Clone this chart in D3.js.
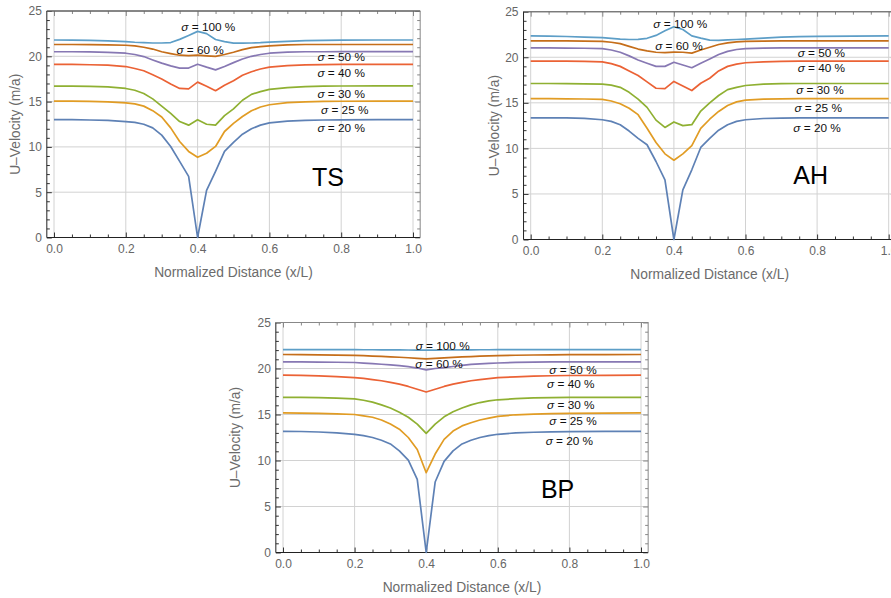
<!DOCTYPE html>
<html lang="en">
<head>
<meta charset="UTF-8">
<title>U-Velocity profiles</title>
<script src="https://d3js.org/d3.v7.min.js"></script>
<style>
  body { margin: 0; background: #fff; }
  text { font-family: "Liberation Sans", Arial, sans-serif; }
</style>
</head>
<body>
<svg></svg>
<script>

var width = 891, height = 598;

// normalized distance samples (x/L)
var xs = [0, 0.05, 0.1, 0.15, 0.2, 0.225, 0.25, 0.275, 0.3, 0.325, 0.35, 0.375, 0.4,
          0.425, 0.45, 0.475, 0.5, 0.525, 0.55, 0.575, 0.6, 0.65, 0.7, 0.75, 0.8, 0.9, 1.0];

var sigmas = ["20", "25", "30", "40", "50", "60", "100"];
var colors = ["#5e81b5", "#e19c24", "#8fb032", "#eb6235", "#8778b3", "#c56e1a", "#5d9ec7"];

var xTicks = [0, 0.2, 0.4, 0.6, 0.8, 1.0];
var yTicks = [0, 5, 10, 15, 20, 25];

// TS
var ts20  = [13.0, 13.0, 12.97, 12.92, 12.8, 12.7, 12.5, 12.1, 11.3, 10.05, 8.4, 6.75, 0, 5.2, 7.3, 9.5, 10.5, 11.4, 12.0, 12.4, 12.65, 12.85, 12.93, 12.97, 12.99, 13.0, 13.0];
var ts25  = [15.05, 15.05, 15.02, 14.97, 14.85, 14.75, 14.5, 14.0, 13.3, 12.1, 10.6, 9.5, 8.85, 9.3, 10.05, 11.7, 12.6, 13.35, 13.98, 14.4, 14.65, 14.88, 14.97, 15.02, 15.04, 15.05, 15.05];
var ts30  = [16.7, 16.7, 16.68, 16.62, 16.45, 16.25, 15.9, 15.3, 14.5, 13.7, 12.8, 12.4, 13.0, 12.5, 12.4, 13.45, 14.2, 15.15, 15.8, 16.1, 16.35, 16.55, 16.65, 16.7, 16.72, 16.73, 16.73];
var ts40  = [19.1, 19.1, 19.07, 19.02, 18.87, 18.65, 18.4, 17.96, 17.5, 16.95, 16.45, 16.4, 17.15, 16.7, 16.2, 16.8, 17.3, 17.9, 18.3, 18.6, 18.8, 18.98, 19.05, 19.08, 19.1, 19.1, 19.1];
var ts50  = [20.5, 20.5, 20.48, 20.43, 20.34, 20.2, 19.97, 19.6, 19.25, 18.95, 18.7, 18.7, 19.13, 18.8, 18.5, 18.87, 19.3, 19.7, 20.0, 20.2, 20.34, 20.45, 20.5, 20.5, 20.52, 20.52, 20.52];
var ts60  = [21.3, 21.3, 21.29, 21.27, 21.22, 21.15, 21.0, 20.8, 20.5, 20.3, 20.12, 20.08, 20.12, 20.05, 20.0, 20.2, 20.45, 20.74, 20.95, 21.07, 21.16, 21.27, 21.3, 21.3, 21.3, 21.3, 21.3];
var ts100 = [21.8, 21.78, 21.75, 21.7, 21.63, 21.55, 21.5, 21.47, 21.47, 21.52, 21.87, 22.3, 22.75, 22.5, 21.85, 21.62, 21.45, 21.45, 21.47, 21.5, 21.56, 21.65, 21.72, 21.76, 21.78, 21.8, 21.8];

// AH
var ah20  = [13.35, 13.35, 13.34, 13.3, 13.14, 12.96, 12.6, 11.9, 11.1, 10.4, 8.56, 6.55, 0, 5.45, 7.65, 10.1, 11.1, 12.0, 12.6, 12.96, 13.14, 13.28, 13.32, 13.34, 13.35, 13.35, 13.35];
var ah25  = [15.45, 15.45, 15.44, 15.42, 15.37, 15.2, 14.9, 14.4, 13.7, 12.2, 10.65, 9.4, 8.7, 9.4, 10.3, 12.2, 13.2, 14.05, 14.7, 15.1, 15.3, 15.4, 15.43, 15.45, 15.45, 15.45, 15.45];
var ah30  = [17.12, 17.12, 17.11, 17.09, 17.05, 16.95, 16.7, 16.15, 15.4, 14.5, 13.1, 12.3, 12.9, 12.5, 12.6, 14.1, 15.0, 15.8, 16.45, 16.7, 16.9, 17.05, 17.1, 17.12, 17.12, 17.12, 17.12];
var ah40  = [19.58, 19.58, 19.57, 19.55, 19.5, 19.3, 19.0, 18.5, 18.0, 17.3, 16.6, 16.55, 17.35, 16.85, 16.35, 17.15, 17.7, 18.5, 19.0, 19.25, 19.4, 19.5, 19.55, 19.57, 19.58, 19.58, 19.58];
var ah50  = [21.02, 21.02, 21.01, 20.99, 20.95, 20.8, 20.55, 20.15, 19.7, 19.35, 19.0, 19.0, 19.45, 19.15, 18.85, 19.35, 19.8, 20.3, 20.65, 20.85, 20.95, 21.0, 21.02, 21.02, 21.02, 21.02, 21.02];
var ah60  = [21.8, 21.8, 21.8, 21.78, 21.75, 21.65, 21.5, 21.2, 20.9, 20.7, 20.55, 20.5, 20.57, 20.55, 20.45, 20.8, 21.1, 21.4, 21.57, 21.68, 21.75, 21.78, 21.8, 21.8, 21.8, 21.8, 21.8];
var ah100 = [22.35, 22.32, 22.28, 22.22, 22.15, 22.08, 22.0, 21.95, 21.97, 22.08, 22.4, 22.9, 23.35, 23.05, 22.35, 22.1, 21.88, 21.86, 21.9, 21.95, 22.0, 22.1, 22.2, 22.27, 22.3, 22.33, 22.35];

// BP
var bp20  = [13.17, 13.15, 13.1, 13.0, 12.84, 12.7, 12.5, 12.2, 11.8, 11.05, 10.05, 7.95, 0, 7.66, 9.9, 11.05, 11.8, 12.2, 12.5, 12.7, 12.85, 13.0, 13.07, 13.11, 13.14, 13.16, 13.17];
var bp25  = [15.17, 15.15, 15.12, 15.07, 15.0, 14.85, 14.7, 14.4, 13.96, 13.4, 12.5, 11.2, 8.67, 10.7, 12.3, 13.2, 13.76, 14.1, 14.4, 14.6, 14.8, 14.97, 15.05, 15.1, 15.13, 15.16, 15.17];
var bp30  = [16.87, 16.86, 16.84, 16.78, 16.7, 16.55, 16.35, 16.05, 15.7, 15.25, 14.7, 13.96, 12.95, 13.96, 14.75, 15.3, 15.7, 16.05, 16.3, 16.48, 16.6, 16.72, 16.8, 16.84, 16.86, 16.87, 16.87];
var bp40  = [19.27, 19.25, 19.2, 19.12, 19.0, 18.92, 18.8, 18.67, 18.5, 18.3, 18.05, 17.75, 17.45, 17.75, 18.05, 18.3, 18.5, 18.67, 18.8, 18.9, 19.0, 19.1, 19.17, 19.21, 19.24, 19.26, 19.27];
var bp50  = [20.73, 20.72, 20.7, 20.68, 20.65, 20.58, 20.52, 20.46, 20.4, 20.32, 20.2, 20.05, 19.85, 20.0, 20.1, 20.22, 20.35, 20.44, 20.5, 20.56, 20.6, 20.66, 20.7, 20.72, 20.73, 20.73, 20.73];
var bp60  = [21.52, 21.51, 21.49, 21.46, 21.42, 21.39, 21.35, 21.31, 21.27, 21.22, 21.17, 21.11, 21.05, 21.1, 21.15, 21.2, 21.26, 21.3, 21.34, 21.37, 21.4, 21.44, 21.47, 21.49, 21.5, 21.51, 21.52];
var bp100 = [22.06, 22.06, 22.06, 22.05, 22.05, 22.04, 22.04, 22.03, 22.03, 22.02, 22.01, 22.0, 21.99, 22.0, 22.01, 22.02, 22.03, 22.03, 22.04, 22.04, 22.05, 22.05, 22.06, 22.06, 22.06, 22.06, 22.06];

// panel layout + annotation spots (label spots in data units, same order as sigmas)
var panels = [
  { name: "TS", series: [ts20, ts25, ts30, ts40, ts50, ts60, ts100],
    left: 54, right: 413, bottom: 237.5, top: 11, yTitleX: 15,
    nameAt: [0.763, 6.7],
    labelAt: [[0.80, 12.15], [0.81, 14.1], [0.80, 15.8], [0.80, 18.2], [0.80, 19.9], [0.407, 20.7], [0.43, 23.2]] },
  { name: "AH", series: [ah20, ah25, ah30, ah40, ah50, ah60, ah100],
    left: 530.7, right: 888.7, bottom: 239.5, top: 11.7, yTitleX: 494,
    nameAt: [0.782, 7.0],
    labelAt: [[0.80, 12.3], [0.803, 14.5], [0.808, 16.4], [0.812, 18.8], [0.812, 20.47], [0.414, 21.2], [0.418, 23.66]] },
  { name: "BP", series: [bp20, bp25, bp30, bp40, bp50, bp60, bp100],
    left: 283, right: 641, bottom: 552.5, top: 322.5, yTitleX: 235,
    nameAt: [0.767, 6.9],
    labelAt: [[0.80, 12.1], [0.81, 14.3], [0.804, 16.1], [0.804, 18.3], [0.81, 19.9], [0.436, 20.5], [0.446, 22.5]] }
];

var svg = d3.select("svg").attr("width", width).attr("height", height);

function drawPanel(p) {
    var x = d3.scaleLinear().domain([0, 1]).range([p.left, p.right]);
    var y = d3.scaleLinear().domain([0, 25]).range([p.bottom, p.top]);
    var fx0 = x(-0.02), fx1 = x(1.02);
    var g = svg.append("g");

    // grid lines
    g.selectAll(".gx").data(xTicks).enter().append("line")
        .attr("x1", function (d) { return x(d); }).attr("x2", function (d) { return x(d); })
        .attr("y1", y(25)).attr("y2", y(0))
        .attr("stroke", "#d2d2d2").attr("stroke-width", 1);
    g.selectAll(".gy").data(yTicks).enter().append("line")
        .attr("x1", fx0).attr("x2", fx1)
        .attr("y1", function (d) { return y(d); }).attr("y2", function (d) { return y(d); })
        .attr("stroke", "#d2d2d2").attr("stroke-width", 1);

    var minorX = d3.range(0, 1.001, 0.05).filter(function (d) { return Math.abs(d * 5 - Math.round(d * 5)) > 1e-6; });
    var minorY = d3.range(0, 25.5, 1).filter(function (d) { return d % 5 !== 0; });

    function styleAxis(sel, col) {
        sel.select(".domain").remove();
        sel.selectAll("line").attr("stroke", col);
        sel.selectAll("text").attr("fill", "#666").style("font-size", "12px")
            .style("font-family", "'Liberation Sans', Arial, sans-serif");
    }

    // bottom
    g.append("g").attr("transform", "translate(0," + y(0) + ")")
        .call(d3.axisBottom(x).tickValues(xTicks).tickFormat(d3.format(".1f")).tickSizeInner(-5).tickSizeOuter(0).tickPadding(7))
        .call(styleAxis, "#333");
    g.append("g").attr("transform", "translate(0," + y(0) + ")")
        .call(d3.axisBottom(x).tickValues(minorX).tickFormat("").tickSizeInner(-3).tickSizeOuter(0))
        .call(styleAxis, "#333");
    // top
    g.append("g").attr("transform", "translate(0," + y(25) + ")")
        .call(d3.axisTop(x).tickValues(xTicks).tickFormat("").tickSizeInner(-5).tickSizeOuter(0))
        .call(styleAxis, "#888");
    g.append("g").attr("transform", "translate(0," + y(25) + ")")
        .call(d3.axisTop(x).tickValues(minorX).tickFormat("").tickSizeInner(-3).tickSizeOuter(0))
        .call(styleAxis, "#888");
    // left
    g.append("g").attr("transform", "translate(" + fx0 + ",0)")
        .call(d3.axisLeft(y).tickValues(yTicks).tickFormat(d3.format("d")).tickSizeInner(-5).tickSizeOuter(0).tickPadding(5))
        .call(styleAxis, "#333");
    g.append("g").attr("transform", "translate(" + fx0 + ",0)")
        .call(d3.axisLeft(y).tickValues(minorY).tickFormat("").tickSizeInner(-3).tickSizeOuter(0))
        .call(styleAxis, "#333");
    // right
    g.append("g").attr("transform", "translate(" + fx1 + ",0)")
        .call(d3.axisRight(y).tickValues(yTicks).tickFormat("").tickSizeInner(-5).tickSizeOuter(0))
        .call(styleAxis, "#888");
    g.append("g").attr("transform", "translate(" + fx1 + ",0)")
        .call(d3.axisRight(y).tickValues(minorY).tickFormat("").tickSizeInner(-3).tickSizeOuter(0))
        .call(styleAxis, "#888");

    // frame
    g.append("path").attr("d", "M" + fx1 + "," + y(25) + "H" + fx0 + "V" + y(0) + "H" + fx1)
        .attr("fill", "none").attr("stroke", "#222").attr("stroke-width", 1);
    g.append("line").attr("x1", fx1).attr("x2", fx1).attr("y1", y(25)).attr("y2", y(0))
        .attr("stroke", "#888").attr("stroke-width", 1);
    g.append("line").attr("x1", fx0).attr("x2", fx1).attr("y1", y(25)).attr("y2", y(25))
        .attr("stroke", "#888").attr("stroke-width", 1);

    // curves
    var line = d3.line()
        .x(function (d, i) { return x(xs[i]); })
        .y(function (d) { return y(d); });
    g.selectAll(".curve").data(p.series).enter().append("path")
        .attr("d", line)
        .attr("fill", "none")
        .attr("stroke", function (d, i) { return colors[i]; })
        .attr("stroke-width", 1.7)
        .attr("stroke-linejoin", "round");

    // curve labels
    var lab = g.selectAll(".lab").data(sigmas).enter().append("text")
        .attr("x", function (d, i) { return x(p.labelAt[i][0]); })
        .attr("y", function (d, i) { return y(p.labelAt[i][1]); })
        .attr("dy", "0.35em")
        .attr("text-anchor", "middle")
        .style("font-size", "11.8px")
        .attr("fill", "#111");
    lab.append("tspan").style("font-style", "italic").text("σ");
    lab.append("tspan").text(function (d) { return " = " + d + " %"; });

    // panel name
    g.append("text")
        .attr("x", x(p.nameAt[0])).attr("y", y(p.nameAt[1]))
        .attr("dy", "0.35em").attr("text-anchor", "middle")
        .style("font-size", "25px").attr("fill", "#000")
        .text(p.name);

    // axis titles
    g.append("text")
        .attr("x", x(0.5)).attr("y", y(0) + 35)
        .attr("dy", "0.35em").attr("text-anchor", "middle")
        .style("font-size", "13.8px").attr("fill", "#6b6b6b")
        .text("Normalized Distance (x/L)");
    g.append("text")
        .attr("transform", "translate(" + p.yTitleX + "," + ((y(0) + y(25)) / 2) + ") rotate(-90)")
        .attr("dy", "0.35em").attr("text-anchor", "middle")
        .style("font-size", "13.8px").attr("fill", "#6b6b6b")
        .text("U–Velocity (m/a)");
}

panels.forEach(drawPanel);

</script>
</body>
</html>
